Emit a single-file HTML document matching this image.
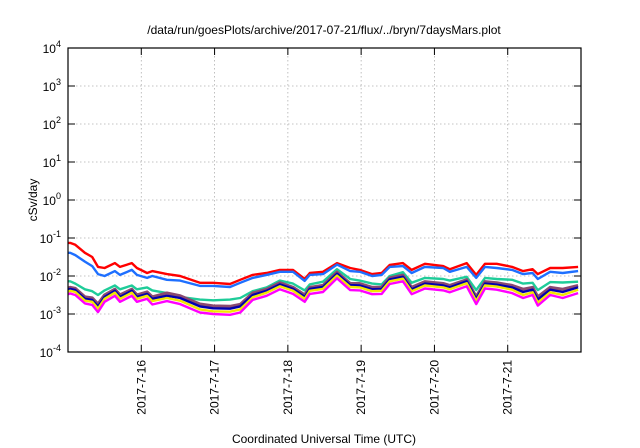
<!DOCTYPE html>
<html><head><meta charset="utf-8"><style>
html,body{margin:0;padding:0;background:#fff;}
svg{display:block;font-family:"Liberation Sans",sans-serif;}
</style></head><body>
<svg id="chart" width="640" height="448" viewBox="0 0 640 448" xmlns="http://www.w3.org/2000/svg">
<text x="324" y="34" font-size="12" text-anchor="middle">/data/run/goesPlots/archive/2017-07-21/flux/../bryn/7daysMars.plot</text>
<text transform="translate(37,200) rotate(-90)" font-size="12" text-anchor="middle">cSv/day</text>
<text x="324" y="443" font-size="12" text-anchor="middle">Coordinated Universal Time (UTC)</text>
<g id="grid"></g><g id="series"></g><g id="axes"></g>
</svg>
<script>
const times=[0,0.03,0.10,0.23,0.33,0.41,0.50,0.64,0.71,0.87,0.94,1.08,1.15,1.35,1.53,1.80,1.98,2.21,2.35,2.52,2.71,2.89,3.07,3.23,3.30,3.48,3.67,3.85,3.98,4.15,4.28,4.39,4.57,4.69,4.87,5.12,5.21,5.44,5.57,5.69,5.85,6.06,6.21,6.34,6.41,6.58,6.75,6.96];
const redLog=[-1.13,-1.13,-1.18,-1.39,-1.50,-1.76,-1.79,-1.66,-1.76,-1.66,-1.79,-1.92,-1.87,-1.95,-2.00,-2.18,-2.18,-2.21,-2.10,-1.97,-1.92,-1.84,-1.84,-2.08,-1.92,-1.89,-1.66,-1.79,-1.84,-1.95,-1.92,-1.71,-1.66,-1.84,-1.68,-1.74,-1.82,-1.66,-1.97,-1.68,-1.68,-1.76,-1.87,-1.82,-1.95,-1.79,-1.79,-1.76];
const blueLog=[-1.39,-1.39,-1.45,-1.62,-1.74,-1.95,-2.0,-1.87,-1.97,-1.84,-1.97,-2.05,-2.0,-2.1,-2.12,-2.26,-2.26,-2.29,-2.18,-2.05,-1.97,-1.89,-1.89,-2.13,-1.97,-1.95,-1.7,-1.87,-1.89,-2.0,-1.97,-1.76,-1.74,-1.92,-1.76,-1.79,-1.89,-1.76,-2.05,-1.76,-1.79,-1.84,-1.95,-1.92,-2.08,-1.89,-1.92,-1.87];
const tealLog=[-2.14,-2.14,-2.2,-2.35,-2.4,-2.5,-2.38,-2.25,-2.35,-2.25,-2.35,-2.3,-2.38,-2.45,-2.55,-2.62,-2.64,-2.62,-2.58,-2.4,-2.3,-2.12,-2.2,-2.38,-2.22,-2.15,-1.82,-2.08,-2.12,-2.2,-2.22,-2.0,-1.9,-2.18,-2.05,-2.08,-2.12,-2.02,-2.37,-2.05,-2.08,-2.1,-2.2,-2.18,-2.37,-2.16,-2.17,-2.15];
const brownLog=[-2.32,-2.3,-2.33,-2.55,-2.58,-2.74,-2.5,-2.35,-2.5,-2.35,-2.5,-2.42,-2.55,-2.45,-2.52,-2.74,-2.79,-2.8,-2.75,-2.45,-2.35,-2.18,-2.3,-2.5,-2.3,-2.25,-1.9,-2.2,-2.2,-2.3,-2.3,-2.05,-1.98,-2.3,-2.15,-2.2,-2.25,-2.1,-2.55,-2.15,-2.18,-2.25,-2.35,-2.3,-2.55,-2.3,-2.35,-2.25];
const navyLog=[-2.36,-2.34,-2.37,-2.6,-2.63,-2.8,-2.55,-2.39,-2.55,-2.39,-2.55,-2.47,-2.6,-2.52,-2.58,-2.8,-2.85,-2.86,-2.8,-2.5,-2.39,-2.22,-2.34,-2.55,-2.34,-2.29,-1.94,-2.24,-2.25,-2.35,-2.34,-2.09,-2.02,-2.35,-2.2,-2.25,-2.3,-2.14,-2.6,-2.2,-2.23,-2.3,-2.42,-2.36,-2.62,-2.36,-2.42,-2.3];
const yellowLog=[-2.41,-2.39,-2.42,-2.65,-2.68,-2.86,-2.6,-2.44,-2.6,-2.44,-2.6,-2.52,-2.66,-2.58,-2.65,-2.88,-2.93,-2.94,-2.88,-2.56,-2.44,-2.27,-2.39,-2.6,-2.39,-2.34,-1.99,-2.29,-2.3,-2.4,-2.39,-2.14,-2.07,-2.4,-2.25,-2.3,-2.35,-2.19,-2.66,-2.25,-2.28,-2.36,-2.5,-2.43,-2.7,-2.43,-2.5,-2.36];
const magentaLog=[-2.48,-2.46,-2.5,-2.72,-2.76,-2.95,-2.68,-2.52,-2.68,-2.52,-2.68,-2.6,-2.75,-2.66,-2.74,-2.96,-3.0,-3.02,-2.96,-2.63,-2.52,-2.35,-2.47,-2.68,-2.47,-2.42,-2.06,-2.37,-2.38,-2.48,-2.47,-2.21,-2.14,-2.48,-2.33,-2.38,-2.43,-2.27,-2.74,-2.33,-2.36,-2.45,-2.58,-2.5,-2.78,-2.5,-2.58,-2.45];
const xTickLabels=["2017-7-16","2017-7-17","2017-7-18","2017-7-19","2017-7-20","2017-7-21"];
const xTickDays=[1,2,3,4,5,6];
const yTickExps=[-4,-3,-2,-1,0,1,2,3,4];

const L=68,R=581,T=48,B=352,NS="http://www.w3.org/2000/svg";
const xS=d=>L+(d/7)*(R-L);
const yS=e=>B-(e+4)/8*(B-T);
function mk(tag,attrs,parent){const el=document.createElementNS(NS,tag);for(const k in attrs)el.setAttribute(k,attrs[k]);parent.appendChild(el);return el;}
const grid=document.getElementById('grid'),axes=document.getElementById('axes'),ser=document.getElementById('series');
yTickExps.forEach(e=>{
  const y=yS(e);
  if(e>-4&&e<4){const g=mk('line',{x1:L,x2:R,y1:y,y2:y,stroke:'#b0b0b0','stroke-width':0.8,'stroke-dasharray':'1.5,2.5'},grid);
  
  }
  const t1=mk('line',{x1:L,x2:L+7,y1:y,y2:y,stroke:'#000'},axes);
  
  
  const t2=mk('line',{x1:R-7,x2:R,y1:y,y2:y,stroke:'#000'},axes);
  
  
  const tx=mk('text',{x:L-7,y:y+5,'font-size':12,'text-anchor':'end'},axes);
  
  
  const b=document.createElementNS(NS,'tspan');b.textContent='10';tx.appendChild(b);
  const s=document.createElementNS(NS,'tspan');s.setAttribute('dy','-6');s.setAttribute('font-size','9');s.textContent=String(e);tx.appendChild(s);
});
xTickDays.forEach((d,i)=>{
  const x=xS(d);
  const g=mk('line',{x1:x,x2:x,y1:T,y2:B,stroke:'#b0b0b0','stroke-width':0.8,'stroke-dasharray':'1.5,2.5'},grid);
  
  
  const t1=mk('line',{x1:x,x2:x,y1:B-7,y2:B,stroke:'#000'},axes);
  
  
  const t2=mk('line',{x1:x,x2:x,y1:T,y2:T+7,stroke:'#000'},axes);
  
  
  const tx=mk('text',{transform:`translate(${x+4},${B+8}) rotate(-90)`,'font-size':12,'text-anchor':'end'},axes);
  
  
  tx.textContent=xTickLabels[i];
});
const frame=mk('rect',{x:L,y:T,width:R-L,height:B-T,fill:'none',stroke:'#000','stroke-width':1.2},axes);


const seriesList=[[redLog,'#ff0000','red'],[blueLog,'#1e6fff','blue'],[tealLog,'#1fcc99','teal'],[brownLog,'#8a4a70','purple'],[navyLog,'#0000b0','navy'],[yellowLog,'#f2e600','yellow'],[magentaLog,'#ff00ff','magenta']];
seriesList.forEach(([arr,col,nm])=>{
  const n=Math.min(arr.length,times.length);
  let d='';for(let i=0;i<n;i++)d+=(i?'L':'M')+xS(times[i]).toFixed(1)+','+yS(arr[i]).toFixed(1);
  const p=mk('path',{d:d,fill:'none',stroke:col,'stroke-width':nm==='purple'?3.2:2.4,'stroke-linejoin':'round'},ser);
  
  
});
</script>
</body></html>
